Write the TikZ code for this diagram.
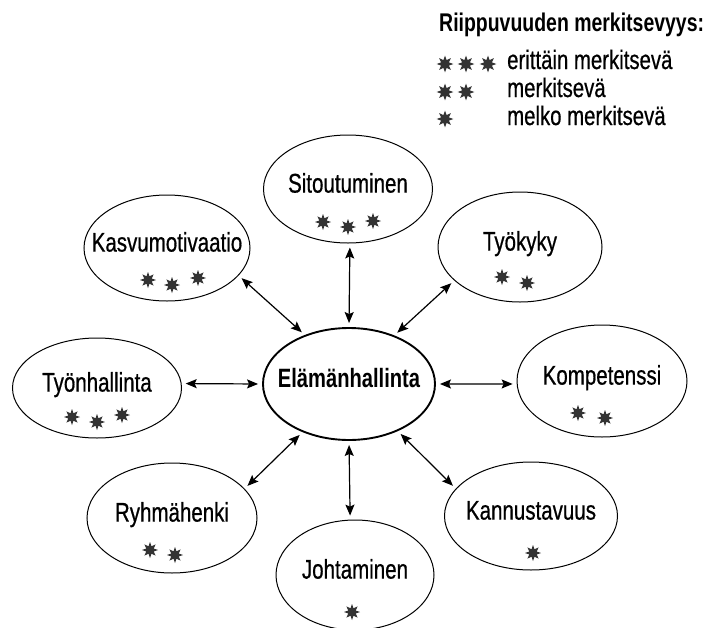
\documentclass[tikz,border=0pt]{standalone}
\usepackage{fontspec}
\setmainfont{Liberation Sans}[FakeStretch=0.76, UprightFeatures={FakeBold=0.6}]
\usetikzlibrary{shapes.geometric,arrows.meta}
\definecolor{tahtiharmaa}{HTML}{333333}

\begin{document}
\begin{tikzpicture}[
    x=1pt, y=-1pt,
    soikio/.style={
       ellipse, draw=black, line width=1pt,
       inner xsep=-25pt, inner ysep=0pt,
       text height=0.72em, text depth=0pt,
       font=\fontsize{27}{31}\selectfont
        },
    keskus/.style={soikio, line width=1.9pt, font=\fontsize{26.5}{31}\selectfont\bfseries},
    selite/.style={anchor=base west, inner sep=0pt, font=\fontsize{26.8}{31}\selectfont},
    nuoli/.style={
       {Stealth[length=11pt,width=9pt,inset=2pt]}-{Stealth[length=11pt,width=9pt,inset=2pt]},
       line width=1.2pt, shorten <=4pt, shorten >=4pt
        },
    tahti/.pic={
       \fill [tahtiharmaa] (0:8) \foreach \a in {0,45,...,315} {-- (\a:8) -- (\a+22.5:4)} -- cycle;
        }]

\useasboundingbox (0,0) rectangle (710,627);

% legend
\node [anchor=base west, inner sep=0pt, font=\fontsize{25.6}{30}\selectfont\bfseries] (otsikko) at (439,31) {Riippuvuuden merkitsevyys:};
\node [selite] (selite-3) at (507,69) {erittäin merkitsevä};
\node [selite] (selite-2) at (507,97) {merkitsevä};
\node [selite] (selite-1) at (507,125) {melko merkitsevä};
\foreach \p in {(445,64),(466,64),(488,64),(445,92),(466,92),(445,119)}
   \pic [scale=1.05] at \p {tahti};

% ellipses
\node [keskus, minimum width=172, minimum height=112] (elama) at (349,384) {Elämänhallinta};
\foreach \nimi/\x/\y/\w/\h/\teksti in {
      sito/348/189/169/108/Sitoutuminen,
      kasvu/167/248/166/106/Kasvumotivaatio,
      tyokyky/520/247/164/110/Työkyky,
      tyonh/97/388/169/100/Työnhallinta,
      kompe/602/381/170/112/Kompetenssi,
      ryhma/172/518/170/110/Ryhmähenki,
      kannus/531/516/173/108/Kannustavuus,
      johta/355/575/158/110/Johtaminen} {
   \node [soikio, minimum width=\w, minimum height=\h] (\nimi) at (\x,\y) {\teksti};
  }

% stars
\foreach \p in {(323,222),(348,227),(373,221), (148,280),(172,285),(198,278),
      (502,277),(527,283), (72,417),(97,422),(122,415), (578,413),(605,418),
      (150,550),(175,555), (533,553), (352,612)}
   \pic at \p {tahti};

% arrows
\foreach \a/\b in {90/sito.272, 132/kasvu.-21, 47/tyokyky.207, 180/tyonh.3,
      0/kompe.182, 226/ryhma.22, 316/kannus.160, 270/johta.95} {
   \draw [nuoli] (elama.\a) -- (\b);
 }
\end{tikzpicture}
\end{document}
